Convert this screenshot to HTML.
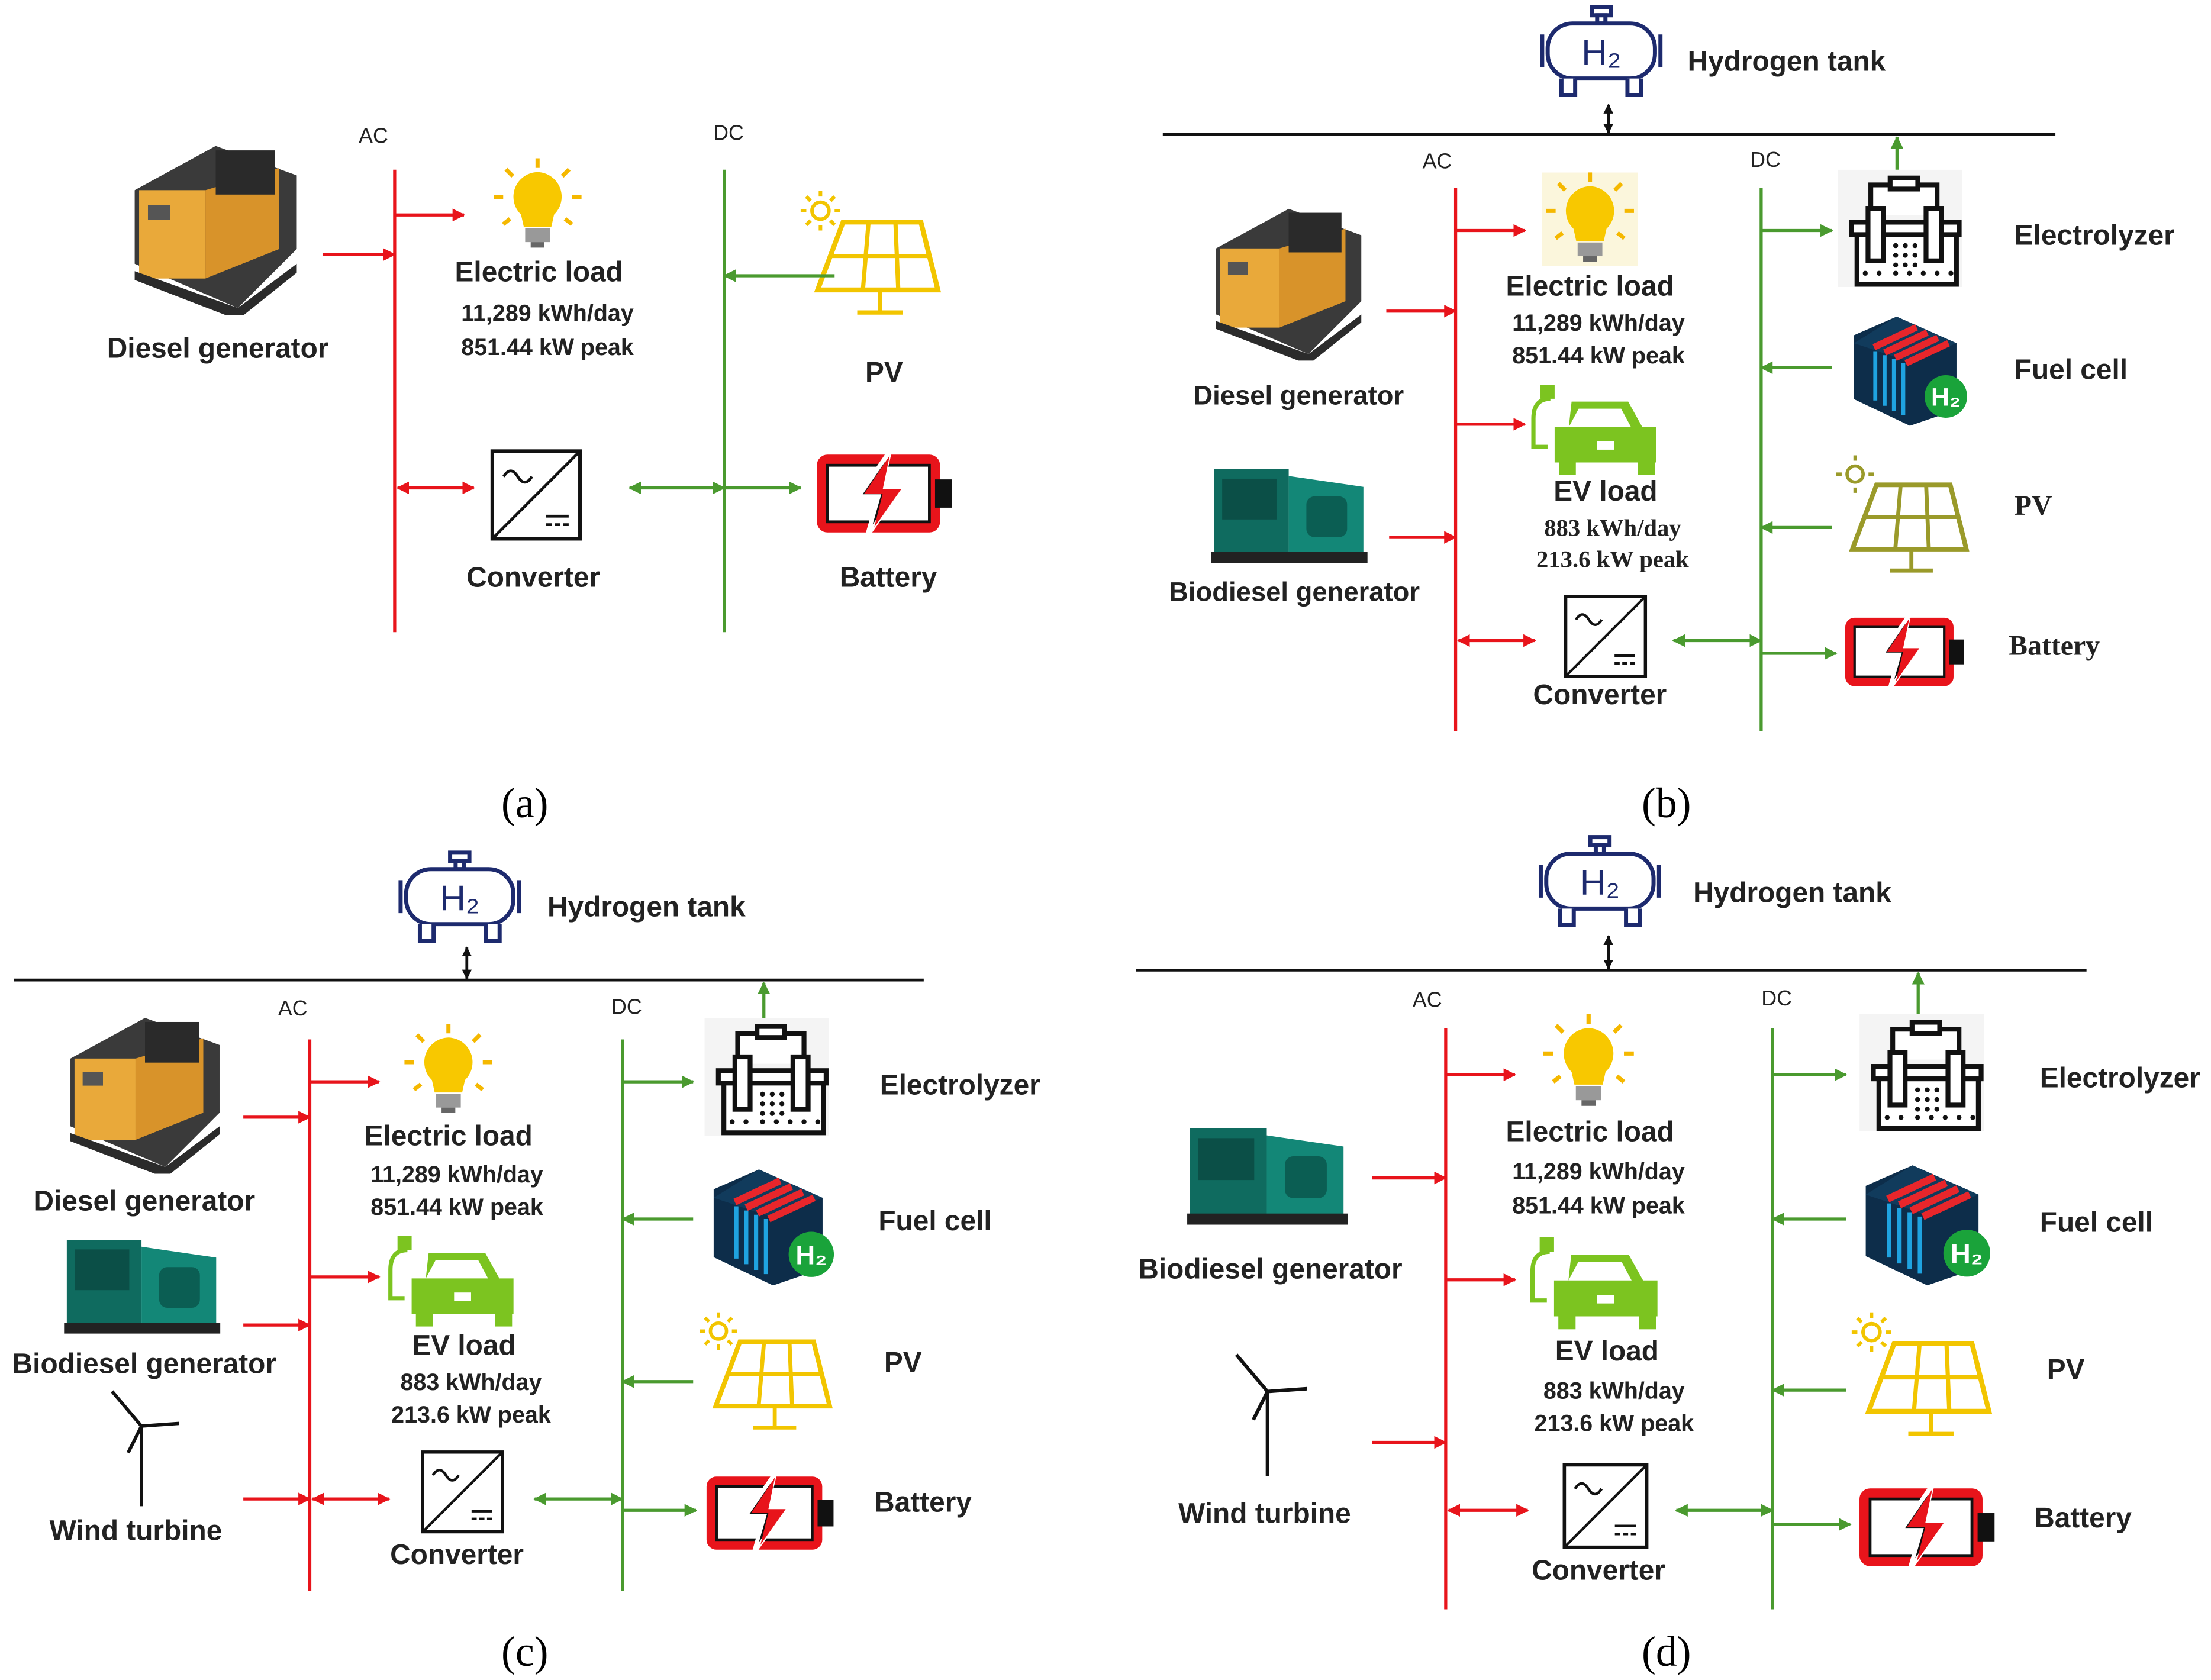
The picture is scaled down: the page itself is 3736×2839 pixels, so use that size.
<!DOCTYPE html>
<html><head><meta charset="utf-8"><style>
html,body{margin:0;padding:0;background:#fff}
svg{display:block}
text{font-family:"Liberation Sans",sans-serif;font-weight:bold;fill:#222}
.l{font-size:20px}.n{font-size:16.5px}.s{font-family:"Liberation Serif",serif;font-size:17px}
.cap{font-family:"Liberation Serif",serif;font-weight:normal;font-size:30px;fill:#000}
.bus{font-size:15px;font-weight:normal}
.r{stroke:#e8141b;stroke-width:2.2;fill:none}.g{stroke:#4a9a2f;stroke-width:2.2;fill:none}
.k{stroke:#111;stroke-width:2;fill:none}
</style></head><body>
<svg width="3736" height="2839" viewBox="0 0 1563 1188" preserveAspectRatio="none" xmlns="http://www.w3.org/2000/svg">
<defs>
<marker id="mr" viewBox="0 0 10 10" refX="9" refY="5" markerWidth="9" markerHeight="9" markerUnits="userSpaceOnUse" orient="auto-start-reverse"><path d="M0,0L10,5L0,10z" fill="#e8141b"/></marker>
<marker id="mg" viewBox="0 0 10 10" refX="9" refY="5" markerWidth="9" markerHeight="9" markerUnits="userSpaceOnUse" orient="auto-start-reverse"><path d="M0,0L10,5L0,10z" fill="#4a9a2f"/></marker>
<marker id="mk" viewBox="0 0 10 10" refX="9" refY="5" markerWidth="7" markerHeight="7" markerUnits="userSpaceOnUse" orient="auto-start-reverse"><path d="M0,0L10,5L0,10z" fill="#111"/></marker>
<symbol id="bulb" viewBox="0 0 70 70"><g stroke="#f5b800" stroke-width="3"><line x1="35" y1="2" x2="35" y2="9"/><line x1="12" y1="10" x2="17" y2="15"/><line x1="58" y1="10" x2="53" y2="15"/><line x1="3" y1="30" x2="10" y2="30"/><line x1="60" y1="30" x2="67" y2="30"/><line x1="10" y1="50" x2="15" y2="46"/><line x1="60" y1="50" x2="55" y2="46"/></g><path d="M35,12a18,18 0 0 1 12,31l-2,9h-20l-2,-9a18,18 0 0 1 12,-31z" fill="#f8c800"/><rect x="26" y="53" width="18" height="10" fill="#999"/><rect x="30" y="63" width="10" height="4" fill="#666"/></symbol>
<symbol id="gen" viewBox="0 0 120 120"><path d="M60,5l55,20v50l-40,40l-70,-30v-50z" fill="#3a3a3a"/><rect x="8" y="35" width="45" height="60" fill="#e9a93a"/><path d="M53,35l50,-15v55l-50,20z" fill="#d8932a"/><rect x="60" y="8" width="40" height="30" fill="#2a2a2a"/><rect x="14" y="45" width="15" height="10" fill="#555"/><path d="M5,90l70,25l40,-30v6l-40,32l-70,-27z" fill="#2b2b2b"/></symbol>
<symbol id="bio" viewBox="0 0 115 75"><rect x="2" y="5" width="55" height="62" fill="#0f6b5f"/><path d="M57,10l55,8v50l-55,3z" fill="#138777"/><rect x="8" y="12" width="40" height="30" fill="#0b4f47"/><rect x="70" y="25" width="30" height="30" rx="6" fill="#0b5e53"/><rect x="0" y="66" width="115" height="8" fill="#222"/></symbol>
<symbol id="pv" viewBox="0 0 100 95"><g stroke="#f2c500" stroke-width="2.5"><circle cx="14" cy="14" r="6" fill="none"/><line x1="14" y1="0" x2="14" y2="4"/><line x1="14" y1="24" x2="14" y2="28"/><line x1="0" y1="14" x2="4" y2="14"/><line x1="24" y1="14" x2="28" y2="14"/><line x1="4" y1="4" x2="7" y2="7"/><line x1="24" y1="4" x2="21" y2="7"/><line x1="4" y1="24" x2="7" y2="21"/><line x1="24" y1="24" x2="21" y2="21"/></g><path d="M30,22h55l12,48h-85z" fill="#fff" stroke="#f2c500" stroke-width="3.5"/><g stroke="#f2c500" stroke-width="3"><line x1="21" y1="46" x2="91" y2="46"/><line x1="48" y1="22" x2="44" y2="70"/><line x1="67" y1="22" x2="69" y2="70"/><line x1="56" y1="70" x2="56" y2="85"/><line x1="40" y1="86" x2="72" y2="86"/></g></symbol>
<symbol id="pvo" viewBox="0 0 100 95"><g stroke="#9a9a2a" stroke-width="2.5"><circle cx="14" cy="14" r="6" fill="none"/><line x1="14" y1="0" x2="14" y2="4"/><line x1="14" y1="24" x2="14" y2="28"/><line x1="0" y1="14" x2="4" y2="14"/><line x1="24" y1="14" x2="28" y2="14"/></g><path d="M30,22h55l12,48h-85z" fill="#fff" stroke="#9a9a2a" stroke-width="3.5"/><g stroke="#9a9a2a" stroke-width="3"><line x1="21" y1="46" x2="91" y2="46"/><line x1="48" y1="22" x2="44" y2="70"/><line x1="67" y1="22" x2="69" y2="70"/><line x1="56" y1="70" x2="56" y2="85"/><line x1="40" y1="86" x2="72" y2="86"/></g></symbol>
<symbol id="bat" viewBox="0 0 100 60"><rect x="4" y="6" width="80" height="48" rx="4" fill="#fff" stroke="#e8141b" stroke-width="7"/><rect x="8" y="10" width="72" height="40" fill="none" stroke="#111" stroke-width="2"/><rect x="84" y="20" width="12" height="20" fill="#111"/><path d="M52,0l-22,32h14l-8,28l24,-34h-14z" fill="#111" stroke="#fff" stroke-width="3"/><path d="M52,3l-18,27h13l-6,24l19,-27h-13z" fill="#e8141b"/></symbol>
<symbol id="conv" viewBox="0 0 66 66"><rect x="2" y="2" width="62" height="62" fill="#fff" stroke="#111" stroke-width="2.5"/><line x1="2" y1="64" x2="64" y2="2" stroke="#111" stroke-width="2"/><path d="M10,20q5,-8 10,0t10,0" fill="none" stroke="#111" stroke-width="2"/><line x1="40" y1="48" x2="56" y2="48" stroke="#111" stroke-width="2"/><line x1="40" y1="54" x2="56" y2="54" stroke="#111" stroke-width="2" stroke-dasharray="4,2"/></symbol>
<symbol id="car" viewBox="0 0 100 65"><path d="M20,10q-12,0 -12,14v20h10" fill="none" stroke="#7cc420" stroke-width="3"/><rect x="13" y="0" width="10" height="10" fill="#7cc420"/><path d="M35,12h40l10,18h10v25h-72v-25h10z" fill="#7cc420"/><path d="M40,17h30l7,13h-44z" fill="#fff"/><rect x="26" y="52" width="12" height="12" fill="#7cc420"/><rect x="82" y="52" width="12" height="12" fill="#7cc420"/><rect x="53" y="40" width="12" height="6" fill="#fff"/></symbol>
<symbol id="ely" viewBox="0 0 90 85"><rect x="0" y="0" width="90" height="85" fill="#f4f4f4"/><g fill="#fff" stroke="#111" stroke-width="3.5"><path d="M24,33v-22h48v22"/><rect x="38" y="6" width="20" height="8"/><path d="M14,45v38h72v-38"/><rect x="10" y="38" width="78" height="9"/><rect x="22" y="28" width="11" height="38"/><rect x="64" y="28" width="11" height="38"/></g><g fill="#111"><circle cx="42" cy="55" r="1.8"/><circle cx="49" cy="55" r="1.8"/><circle cx="56" cy="55" r="1.8"/><circle cx="42" cy="62" r="1.8"/><circle cx="49" cy="62" r="1.8"/><circle cx="56" cy="62" r="1.8"/><circle cx="42" cy="69" r="1.8"/><circle cx="49" cy="69" r="1.8"/><circle cx="56" cy="69" r="1.8"/><circle cx="20" cy="75" r="1.8"/><circle cx="30" cy="75" r="1.8"/><circle cx="42" cy="75" r="1.8"/><circle cx="52" cy="75" r="1.8"/><circle cx="62" cy="75" r="1.8"/><circle cx="72" cy="75" r="1.8"/><circle cx="82" cy="75" r="1.8"/></g></symbol>
<symbol id="fc" viewBox="0 0 95 85"><path d="M35,2l45,20v50l-35,12l-42,-20v-48z" fill="#0d2d4a"/><path d="M35,2l45,20l-35,14l-42,-14z" fill="#113b5c"/><g stroke="#e8262b" stroke-width="5"><line x1="18" y1="25" x2="50" y2="10"/><line x1="26" y1="29" x2="58" y2="14"/><line x1="34" y1="33" x2="66" y2="18"/><line x1="42" y1="37" x2="74" y2="22"/></g><g stroke="#1fa3e0" stroke-width="3"><line x1="19" y1="28" x2="19" y2="65"/><line x1="26" y1="31" x2="26" y2="69"/><line x1="33" y1="34" x2="33" y2="73"/><line x1="40" y1="37" x2="40" y2="76"/></g><circle cx="72" cy="62" r="16" fill="#1aa33a"/><text x="72" y="69" text-anchor="middle" style="font-size:19px;fill:#fff">H₂</text></symbol>
<symbol id="tank" viewBox="0 0 90 72"><g fill="#fff" stroke="#1d2a6e" stroke-width="3"><rect x="38" y="2" width="14" height="6"/><rect x="42" y="8" width="6" height="6"/><rect x="6" y="14" width="78" height="40" rx="18"/><line x1="2" y1="22" x2="2" y2="46"/><line x1="88" y1="22" x2="88" y2="46"/><path d="M16,54v12h10v-12M64,54v12h10v-12"/></g><text x="45" y="44" text-anchor="middle" style="font-size:26px;font-weight:normal;fill:#1d2a6e">H₂</text></symbol>
<symbol id="wt" viewBox="0 0 60 90"><g stroke="#111" stroke-width="2.5"><line x1="30" y1="28" x2="30" y2="88"/><line x1="30" y1="28" x2="8" y2="2"/><line x1="30" y1="28" x2="58" y2="26"/><line x1="30" y1="28" x2="20" y2="48"/></g></symbol>
</defs>

<!-- (a) -->
<text x="264" y="101" class="bus" text-anchor="middle">AC</text><text x="515" y="99" class="bus" text-anchor="middle">DC</text>
<line x1="279" y1="120" x2="279" y2="447" class="r"/><line x1="512" y1="120" x2="512" y2="447" class="g"/>
<use href="#gen" x="90" y="98" width="125" height="125"/>
<text x="154" y="253" class="l" text-anchor="middle">Diesel generator</text>
<line x1="228" y1="180" x2="279" y2="180" class="r" marker-end="url(#mr)"/>
<line x1="279" y1="152" x2="328" y2="152" class="r" marker-end="url(#mr)"/>
<use href="#bulb" x="346" y="110" width="68" height="68"/>
<text x="381" y="199" class="l" text-anchor="middle">Electric load</text>
<text x="387" y="227" class="n" text-anchor="middle">11,289 kWh/day</text>
<text x="387" y="251" class="n" text-anchor="middle">851.44 kW peak</text>
<use href="#pv" x="565" y="135" width="102" height="95"/>
<text x="625" y="270" class="l" text-anchor="middle">PV</text>
<line x1="590" y1="195" x2="512" y2="195" class="g" marker-end="url(#mg)"/>
<use href="#conv" x="346" y="317" width="66" height="66"/>
<text x="377" y="415" class="l" text-anchor="middle">Converter</text>
<line x1="281" y1="345" x2="335" y2="345" class="r" marker-start="url(#mr)" marker-end="url(#mr)"/>
<line x1="445" y1="345" x2="512" y2="345" class="g" marker-start="url(#mg)" marker-end="url(#mg)"/>
<line x1="512" y1="345" x2="566" y2="345" class="g" marker-end="url(#mg)"/>
<use href="#bat" x="577" y="318" width="100" height="62"/>
<text x="628" y="415" class="l" text-anchor="middle">Battery</text>
<text x="371" y="578" class="cap" text-anchor="middle">(a)</text>

<!-- (b) -->
<line x1="822" y1="95" x2="1453" y2="95" class="k"/>
<use href="#tank" x="1088" y="3" width="88" height="70"/>
<text x="1193" y="50" class="l">Hydrogen tank</text>
<line x1="1137" y1="74" x2="1137" y2="94" class="k" marker-start="url(#mk)" marker-end="url(#mk)"/>
<text x="1016" y="119" class="bus" text-anchor="middle">AC</text><text x="1248" y="118" class="bus" text-anchor="middle">DC</text>
<line x1="1029" y1="133" x2="1029" y2="517" class="r"/><line x1="1245" y1="133" x2="1245" y2="517" class="g"/>
<use href="#gen" x="855" y="143" width="112" height="112"/>
<text x="918" y="286" class="l" text-anchor="middle" style="font-size:19px">Diesel generator</text>
<line x1="980" y1="220" x2="1029" y2="220" class="r" marker-end="url(#mr)"/>
<rect x="1090" y="122" width="68" height="66" fill="#fbf6dc"/>
<use href="#bulb" x="1090" y="120" width="68" height="68"/>
<line x1="1029" y1="163" x2="1078" y2="163" class="r" marker-end="url(#mr)"/>
<text x="1124" y="209" class="l" text-anchor="middle">Electric load</text>
<text x="1130" y="234" class="n" text-anchor="middle">11,289 kWh/day</text>
<text x="1130" y="257" class="n" text-anchor="middle">851.44 kW peak</text>
<use href="#car" x="1076" y="272" width="100" height="65"/>
<line x1="1029" y1="300" x2="1078" y2="300" class="r" marker-end="url(#mr)"/>
<text x="1135" y="354" class="l" text-anchor="middle">EV load</text>
<text x="1140" y="379" class="s" text-anchor="middle">883 kWh/day</text>
<text x="1140" y="401" class="s" text-anchor="middle">213.6 kW peak</text>
<use href="#bio" x="855" y="327" width="113" height="72"/>
<text x="915" y="425" class="l" text-anchor="middle" style="font-size:19px">Biodiesel generator</text>
<line x1="982" y1="380" x2="1029" y2="380" class="r" marker-end="url(#mr)"/>
<use href="#conv" x="1104" y="420" width="62" height="60"/>
<text x="1131" y="498" class="l" text-anchor="middle">Converter</text>
<line x1="1031" y1="453" x2="1085" y2="453" class="r" marker-start="url(#mr)" marker-end="url(#mr)"/>
<line x1="1183" y1="453" x2="1245" y2="453" class="g" marker-start="url(#mg)" marker-end="url(#mg)"/>
<line x1="1245" y1="462" x2="1298" y2="462" class="g" marker-end="url(#mg)"/>
<use href="#ely" x="1298" y="120" width="90" height="83"/>
<line x1="1341" y1="120" x2="1341" y2="97" class="g" marker-end="url(#mg)"/>
<line x1="1245" y1="163" x2="1295" y2="163" class="g" marker-end="url(#mg)"/>
<text x="1424" y="173" class="l">Electrolyzer</text>
<use href="#fc" x="1305" y="222" width="95" height="80"/>
<line x1="1295" y1="260" x2="1245" y2="260" class="g" marker-end="url(#mg)"/>
<text x="1424" y="268" class="l">Fuel cell</text>
<use href="#pvo" x="1298" y="322" width="95" height="90"/>
<line x1="1295" y1="373" x2="1245" y2="373" class="g" marker-end="url(#mg)"/>
<text x="1424" y="364" class="l" style="font-family:'Liberation Serif',serif">PV</text>
<use href="#bat" x="1304" y="432" width="88" height="58"/>
<text x="1420" y="463" class="l" style="font-family:'Liberation Serif',serif">Battery</text>
<text x="1178" y="578" class="cap" text-anchor="middle">(b)</text>

<!-- (c) -->
<line x1="10" y1="693" x2="653" y2="693" class="k"/>
<use href="#tank" x="280" y="601" width="90" height="70"/>
<text x="387" y="648" class="l">Hydrogen tank</text>
<line x1="330" y1="670" x2="330" y2="692" class="k" marker-start="url(#mk)" marker-end="url(#mk)"/>
<text x="207" y="718" class="bus" text-anchor="middle">AC</text><text x="443" y="717" class="bus" text-anchor="middle">DC</text>
<line x1="219" y1="735" x2="219" y2="1125" class="r"/><line x1="440" y1="735" x2="440" y2="1125" class="g"/>
<use href="#gen" x="45" y="715" width="115" height="115"/>
<text x="102" y="856" class="l" text-anchor="middle">Diesel generator</text>
<line x1="172" y1="790" x2="219" y2="790" class="r" marker-end="url(#mr)"/>
<use href="#bulb" x="283" y="722" width="68" height="68"/>
<line x1="219" y1="765" x2="268" y2="765" class="r" marker-end="url(#mr)"/>
<text x="317" y="810" class="l" text-anchor="middle">Electric load</text>
<text x="323" y="836" class="n" text-anchor="middle">11,289 kWh/day</text>
<text x="323" y="859" class="n" text-anchor="middle">851.44 kW peak</text>
<use href="#car" x="268" y="874" width="100" height="65"/>
<line x1="219" y1="903" x2="268" y2="903" class="r" marker-end="url(#mr)"/>
<text x="328" y="958" class="l" text-anchor="middle">EV load</text>
<text x="333" y="983" class="n" text-anchor="middle">883 kWh/day</text>
<text x="333" y="1006" class="n" text-anchor="middle">213.6 kW peak</text>
<use href="#bio" x="43" y="872" width="115" height="72"/>
<text x="102" y="971" class="l" text-anchor="middle">Biodiesel generator</text>
<line x1="172" y1="937" x2="219" y2="937" class="r" marker-end="url(#mr)"/>
<use href="#wt" x="70" y="982" width="60" height="85"/>
<text x="96" y="1089" class="l" text-anchor="middle">Wind turbine</text>
<line x1="172" y1="1060" x2="219" y2="1060" class="r" marker-end="url(#mr)"/>
<use href="#conv" x="296" y="1025" width="62" height="60"/>
<text x="323" y="1106" class="l" text-anchor="middle">Converter</text>
<line x1="221" y1="1060" x2="275" y2="1060" class="r" marker-start="url(#mr)" marker-end="url(#mr)"/>
<line x1="378" y1="1060" x2="440" y2="1060" class="g" marker-start="url(#mg)" marker-end="url(#mg)"/>
<line x1="440" y1="1068" x2="492" y2="1068" class="g" marker-end="url(#mg)"/>
<use href="#ely" x="497" y="720" width="90" height="83"/>
<line x1="540" y1="720" x2="540" y2="695" class="g" marker-end="url(#mg)"/>
<line x1="440" y1="765" x2="490" y2="765" class="g" marker-end="url(#mg)"/>
<text x="622" y="774" class="l">Electrolyzer</text>
<use href="#fc" x="500" y="825" width="98" height="85"/>
<line x1="490" y1="862" x2="440" y2="862" class="g" marker-end="url(#mg)"/>
<text x="621" y="870" class="l">Fuel cell</text>
<use href="#pv" x="493" y="928" width="98" height="90"/>
<line x1="490" y1="977" x2="440" y2="977" class="g" marker-end="url(#mg)"/>
<text x="625" y="970" class="l">PV</text>
<use href="#bat" x="499" y="1041" width="94" height="58"/>
<text x="618" y="1069" class="l">Battery</text>
<text x="371" y="1178" class="cap" text-anchor="middle">(c)</text>

<!-- (d) -->
<line x1="803" y1="686" x2="1475" y2="686" class="k"/>
<use href="#tank" x="1086" y="590" width="90" height="70"/>
<text x="1197" y="638" class="l">Hydrogen tank</text>
<line x1="1137" y1="662" x2="1137" y2="685" class="k" marker-start="url(#mk)" marker-end="url(#mk)"/>
<text x="1009" y="712" class="bus" text-anchor="middle">AC</text><text x="1256" y="711" class="bus" text-anchor="middle">DC</text>
<line x1="1022" y1="727" x2="1022" y2="1138" class="r"/><line x1="1253" y1="727" x2="1253" y2="1138" class="g"/>
<use href="#bio" x="835" y="793" width="122" height="74"/>
<text x="898" y="904" class="l" text-anchor="middle">Biodiesel generator</text>
<line x1="970" y1="833" x2="1022" y2="833" class="r" marker-end="url(#mr)"/>
<use href="#bulb" x="1088" y="715" width="70" height="70"/>
<line x1="1022" y1="760" x2="1071" y2="760" class="r" marker-end="url(#mr)"/>
<text x="1124" y="807" class="l" text-anchor="middle">Electric load</text>
<text x="1130" y="834" class="n" text-anchor="middle">11,289 kWh/day</text>
<text x="1130" y="858" class="n" text-anchor="middle">851.44 kW peak</text>
<use href="#car" x="1075" y="875" width="102" height="66"/>
<line x1="1022" y1="905" x2="1071" y2="905" class="r" marker-end="url(#mr)"/>
<text x="1136" y="962" class="l" text-anchor="middle">EV load</text>
<text x="1141" y="989" class="n" text-anchor="middle">883 kWh/day</text>
<text x="1141" y="1012" class="n" text-anchor="middle">213.6 kW peak</text>
<use href="#wt" x="866" y="956" width="60" height="90"/>
<text x="894" y="1077" class="l" text-anchor="middle">Wind turbine</text>
<line x1="970" y1="1020" x2="1022" y2="1020" class="r" marker-end="url(#mr)"/>
<use href="#conv" x="1103" y="1034" width="64" height="62"/>
<text x="1130" y="1117" class="l" text-anchor="middle">Converter</text>
<line x1="1024" y1="1068" x2="1080" y2="1068" class="r" marker-start="url(#mr)" marker-end="url(#mr)"/>
<line x1="1185" y1="1068" x2="1253" y2="1068" class="g" marker-start="url(#mg)" marker-end="url(#mg)"/>
<line x1="1253" y1="1078" x2="1308" y2="1078" class="g" marker-end="url(#mg)"/>
<use href="#ely" x="1312" y="717" width="93" height="83"/>
<line x1="1356" y1="717" x2="1356" y2="688" class="g" marker-end="url(#mg)"/>
<line x1="1253" y1="760" x2="1305" y2="760" class="g" marker-end="url(#mg)"/>
<text x="1442" y="769" class="l">Electrolyzer</text>
<use href="#fc" x="1315" y="822" width="100" height="88"/>
<line x1="1305" y1="862" x2="1253" y2="862" class="g" marker-end="url(#mg)"/>
<text x="1442" y="871" class="l">Fuel cell</text>
<use href="#pv" x="1308" y="928" width="102" height="95"/>
<line x1="1305" y1="983" x2="1253" y2="983" class="g" marker-end="url(#mg)"/>
<text x="1447" y="975" class="l">PV</text>
<use href="#bat" x="1314" y="1049" width="100" height="62"/>
<text x="1438" y="1080" class="l">Battery</text>
<text x="1178" y="1178" class="cap" text-anchor="middle">(d)</text>
</svg>
</body></html>
